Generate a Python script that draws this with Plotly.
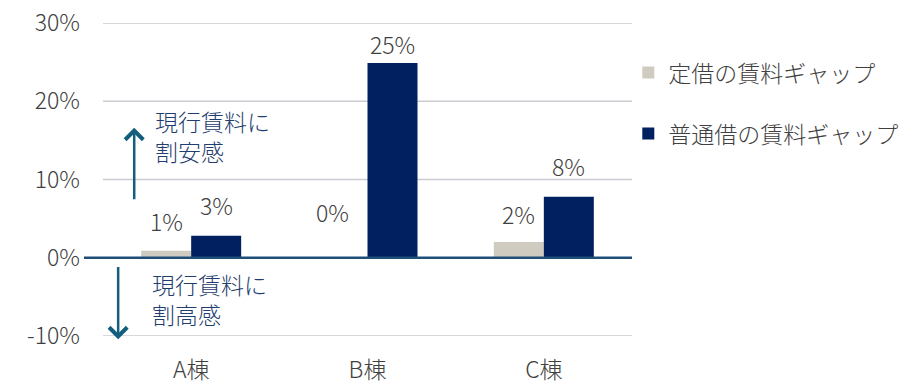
import plotly.graph_objects as go

categories = ["A棟", "B棟", "C棟"]
teishaku = [0.9, 0.0, 2.0]      # 定借の賃料ギャップ (%)
futsu = [2.8, 24.9, 7.8]        # 普通借の賃料ギャップ (%)
series_names = ["定借の賃料ギャップ", "普通借の賃料ギャップ"]
y_ticks = [-10, 0, 10, 20, 30]
y_tick_labels = ["-10%", "0%", "10%", "20%", "30%"]

GRAY = "#d0cbc1"
NAVY = "#002060"
TEXT = "#404040"
GRID = "#c9ccd1"
FONT = "Noto Sans CJK JP"
FS = 23

fig = go.Figure()
fig.add_trace(go.Bar(x=categories, y=teishaku, name=series_names[0],
                     marker=dict(color=GRAY, line=dict(width=0)), legendgroup="a"))
fig.add_trace(go.Bar(x=categories, y=futsu, name=series_names[1],
                     marker=dict(color=NAVY, line=dict(width=0)), legendgroup="b"))

# value labels
shifts_a = [30, 46, 28]
shifts_b = [31, 19, 31]
anns = []
for i, c in enumerate(categories):
    anns.append(dict(x=c, y=teishaku[i], xref="x", yref="y", text=f"{round(teishaku[i])}%",
                     showarrow=False, xshift=-25 if i != 1 else -35, yshift=shifts_a[i],
                     font=dict(size=FS, color=TEXT, family=FONT, weight=300)))
    anns.append(dict(x=c, y=futsu[i], xref="x", yref="y", text=f"{round(futsu[i])}%",
                     showarrow=False, xshift=25, yshift=shifts_b[i],
                     font=dict(size=FS, color=TEXT, family=FONT, weight=300)))

ARROW = "#135e7c"
LBL = "#1f3d6e"
anns.append(dict(x=-0.323, y=16.6, ax=-0.323, ay=7.3, xref="x", yref="y", axref="x", ayref="y",
                 showarrow=True, arrowhead=4, arrowwidth=2.5, arrowsize=1.4, arrowcolor=ARROW, text=""))
anns.append(dict(x=-0.414, y=-10.4, ax=-0.414, ay=-1.0, xref="x", yref="y", axref="x", ayref="y",
                 showarrow=True, arrowhead=4, arrowwidth=2.5, arrowsize=1.4, arrowcolor=ARROW, text=""))
anns.append(dict(x=-0.215, y=15.5, xref="x", yref="y", text="現行賃料に<br>割安感", showarrow=False,
                 xanchor="left", yanchor="middle", align="left",
                 font=dict(size=FS, color=LBL, family=FONT, weight=300)))
anns.append(dict(x=-0.235, y=-5.3, xref="x", yref="y", text="現行賃料に<br>割高感", showarrow=False,
                 xanchor="left", yanchor="middle", align="left",
                 font=dict(size=FS, color=LBL, family=FONT, weight=300)))

shapes = [dict(type="line", xref="paper", yref="y", x0=0, x1=1, y0=t, y1=t,
               line=dict(color=GRID, width=1.5), layer="below")
          for t in y_ticks if t != 0]
shapes.append(dict(type="line", xref="paper", yref="y", x0=-0.036, x1=1, y0=0, y1=0,
                   line=dict(color="#1f4e79", width=2.5), layer="above"))

fig.update_layout(
    width=921, height=385,
    margin=dict(l=103, r=289, t=23, b=49, autoexpand=False),
    paper_bgcolor="white", plot_bgcolor="white",
    barmode="group", bargap=0.433, bargroupgap=0,
    font=dict(family=FONT, color=TEXT, size=FS, weight=300),
    annotations=anns,
    shapes=shapes,
    showlegend=True,
    legend=dict(x=0.993, y=0.91, xanchor="left", yanchor="top",
                font=dict(size=FS, color=TEXT, family=FONT, weight=300),
                tracegroupgap=28, traceorder="grouped", bgcolor="rgba(0,0,0,0)"),
)
fig.update_yaxes(range=[-10, 30], tickvals=y_ticks, ticktext=y_tick_labels,
                 showgrid=False, zeroline=False,
                 showline=False, ticks="", ticklabelstandoff=22, automargin=False,
                 tickfont=dict(size=FS, color=TEXT, family=FONT, weight=300), fixedrange=True)
fig.update_xaxes(showgrid=False, showline=False, ticks="", ticklabelstandoff=18, automargin=False,
                 tickfont=dict(size=FS, color=TEXT, family=FONT, weight=300))

fig.write_html("out.html")
